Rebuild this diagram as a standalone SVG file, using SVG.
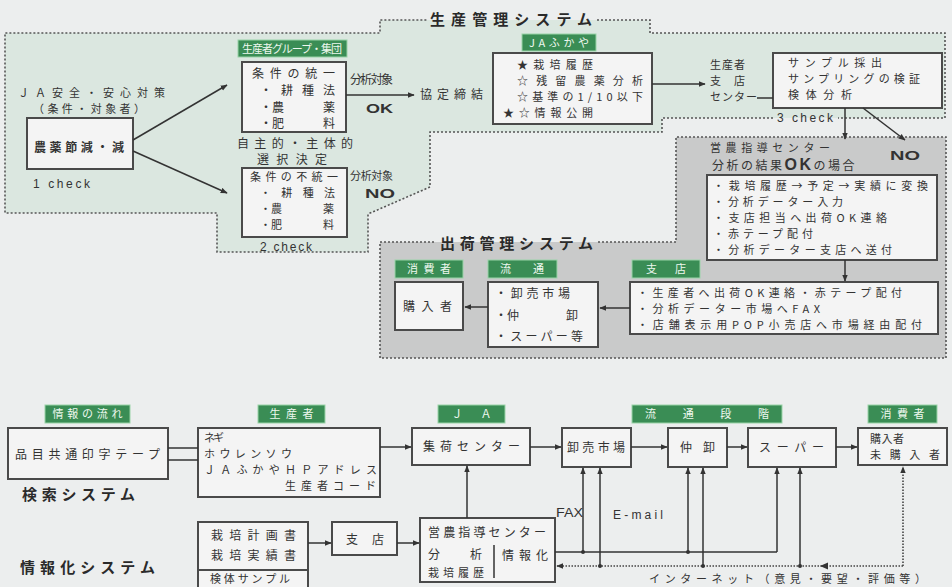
<svg xmlns="http://www.w3.org/2000/svg" width="952" height="587" viewBox="0 0 952 587">
<defs>
<marker id="ah" viewBox="0 0 10 10" refX="9" refY="5" markerWidth="7" markerHeight="7" markerUnits="userSpaceOnUse" orient="auto"><path d="M0,1 L10,5 L0,9 z" fill="#333"/></marker>
<style>
text{font-family:"Noto Sans CJK JP","Noto Sans",sans-serif;font-size:12px;fill:#333}
.s{font-size:11px}
.lat{font-family:"Liberation Sans",Arial,sans-serif}
.b{font-weight:bold}
.ttl{font-size:15px;font-weight:bold;fill:#2a2a2a}
.box{fill:#f4f4f4;stroke:#4a4a4a;stroke-width:2}
.lab rect{fill:#3a8d55;stroke:#9ad3a8;stroke-width:1}
.lab text{fill:#eef8ef;font-size:11px}
.ln{stroke:#333;stroke-width:1.5;fill:none}
.dot{stroke:#444;stroke-width:1.6;fill:none;stroke-dasharray:1.5 1.5}
.dash{stroke:#555;stroke-width:1.6;fill:none;stroke-dasharray:2 2}
</style>
</defs>
<rect x="0" y="0" width="952" height="587" fill="#eceeee"/>

<g id="region-production">
<path d="M5,33 H380 V20 H650 V33 H945 V118 H662 V132 H430 V187 L368,214 V252 H217 V213 H5 Z" fill="#dbe7e0"/>
<path class="dash" d="M597,20 H650 V33 H945 V118 H838 M773,118 H662 V132 H430 V187 L368,214 V252 H217 V213 H5 V33 H380 V20 H428"/>
<text class="ttl" x="430" y="25" textLength="162" lengthAdjust="spacing">生産管理システム</text>
</g>
<g id="region-shipping">
<path d="M380,242 H676 V137 H946 V358 H380 Z" fill="#c9caca"/>
<path class="dash" d="M598,242 H676 V137 H946 V358 H380 V242 H436"/>
<text class="ttl" x="440" y="249" textLength="153" lengthAdjust="spacing">出荷管理システム</text>
</g>

<g id="ja-policy">
<text class="s" x="18" y="97" textLength="147" lengthAdjust="spacing">ＪＡ安全・安心対策</text>
<text class="s" x="33" y="113" textLength="112" lengthAdjust="spacing">（条件・対象者）</text>
<rect class="box" x="27" y="118" width="106" height="51"/>
<text class="b" x="34" y="152" textLength="90" lengthAdjust="spacing">農薬節減・減</text>
<text class="lat" x="33" y="188" textLength="57" lengthAdjust="spacing">1 check</text>
</g>

<g id="group-unified">
<g class="lab"><rect x="238" y="40" width="109" height="17"/><text x="292" y="52.5" text-anchor="middle" textLength="100" lengthAdjust="spacing">生産者グループ・集団</text></g>
<rect class="box" x="242" y="62" width="104" height="70"/>
<text x="252" y="78" textLength="83" lengthAdjust="spacing">条件の統一</text>
<text x="260" y="95" textLength="75" lengthAdjust="spacing">・耕種法</text>
<text x="260" y="112">・農</text><text x="323" y="112">薬</text>
<text x="260" y="128">・肥</text><text x="323" y="128">料</text>
<text x="350" y="84" textLength="43" lengthAdjust="spacing">分析対象</text>
<text class="lat b" x="366" y="113" font-size="15" textLength="27" lengthAdjust="spacingAndGlyphs">OK</text>
<text x="420" y="99" textLength="63" lengthAdjust="spacing">協定締結</text>
</g>

<g id="choice">
<text x="237" y="148" textLength="116" lengthAdjust="spacing">自主的・主体的</text>
<text x="257" y="164" textLength="70" lengthAdjust="spacing">選択決定</text>
</g>

<g id="group-nonunified">
<rect class="box" x="242" y="168" width="105" height="69"/>
<text class="s" x="250" y="181" textLength="88" lengthAdjust="spacing">条件の不統一</text>
<text class="s" x="260" y="197" textLength="75" lengthAdjust="spacing">・耕種法</text>
<text class="s" x="260" y="213">・農</text><text class="s" x="323" y="213">薬</text>
<text class="s" x="260" y="229">・肥</text><text class="s" x="323" y="229">料</text>
<text class="s" x="350" y="180" textLength="43" lengthAdjust="spacing">分析対象</text>
<text class="lat b" x="365" y="198" font-size="15" textLength="30" lengthAdjust="spacingAndGlyphs">NO</text>
<text class="lat" x="260" y="251" textLength="52" lengthAdjust="spacing">2 check</text>
</g>

<g id="ja-fukaya">
<g class="lab"><rect x="522" y="34" width="74" height="17"/><text x="559" y="46.5" text-anchor="middle" textLength="60" lengthAdjust="spacing">JAふかや</text></g>
<rect class="box" x="493" y="53" width="159" height="71"/>
<text class="s" x="517" y="69" textLength="76" lengthAdjust="spacing">★栽培履歴</text>
<text class="s" x="517" y="85" textLength="126" lengthAdjust="spacing">☆残留農薬分析</text>
<text class="s" x="517" y="101" textLength="126" lengthAdjust="spacing">☆基準の1/10以下</text>
<text class="s" x="503" y="117" textLength="90" lengthAdjust="spacing">★☆情報公開</text>
</g>

<g id="producer-center">
<text class="s" x="710" y="69" textLength="35" lengthAdjust="spacing">生産者</text>
<text class="s" x="710" y="85" textLength="35" lengthAdjust="spacing">支店</text>
<text class="s" x="710" y="101" textLength="47" lengthAdjust="spacing">センター</text>
</g>

<g id="sampling">
<rect class="box" x="773" y="53" width="169" height="55"/>
<text class="s" x="788" y="67" textLength="94" lengthAdjust="spacing">サンプル採出</text>
<text class="s" x="788" y="83" textLength="132" lengthAdjust="spacing">サンプリングの検証</text>
<text class="s" x="788" y="99" textLength="64" lengthAdjust="spacing">検体分析</text>
<text class="lat" x="777" y="122" textLength="56" lengthAdjust="spacing">3 check</text>
<text class="lat b" x="890" y="160" font-size="15" textLength="30" lengthAdjust="spacingAndGlyphs">NO</text>
</g>

<g id="guidance-center">
<text class="s" x="710" y="152" textLength="120" lengthAdjust="spacing">営農指導センター</text>
<text x="712" y="170" font-size="13" letter-spacing="2.5">分析の結果<tspan class="lat b" font-size="16">OK</tspan>の場合</text>
<rect class="box" x="707" y="175" width="230" height="85"/>
<text class="s" x="713" y="190" textLength="215" lengthAdjust="spacing">・栽培履歴→予定→実績に変換</text>
<text class="s" x="713" y="206" textLength="130" lengthAdjust="spacing">・分析データー入力</text>
<text class="s" x="713" y="222" textLength="174" lengthAdjust="spacing">・支店担当へ出荷OK連絡</text>
<text class="s" x="713" y="238" textLength="100" lengthAdjust="spacing">・赤テープ配付</text>
<text class="s" x="713" y="254" textLength="179" lengthAdjust="spacing">・分析データー支店へ送付</text>
</g>

<g id="branch">
<g class="lab"><rect x="632" y="260" width="68" height="18"/><text x="666" y="273" text-anchor="middle" textLength="40" lengthAdjust="spacing">支店</text></g>
<rect class="box" x="630" y="282" width="308" height="52"/>
<text class="s" x="637" y="297" textLength="265" lengthAdjust="spacing">・生産者へ出荷OK連絡・赤テープ配付</text>
<text class="s" x="637" y="313" textLength="183" lengthAdjust="spacing">・分析データー市場へFAX</text>
<text class="s" x="637" y="329" textLength="285" lengthAdjust="spacing">・店舗表示用POP小売店へ市場経由配付</text>
</g>

<g id="distribution">
<g class="lab"><rect x="488" y="260" width="69" height="18"/><text x="522" y="273" text-anchor="middle" textLength="44" lengthAdjust="spacing">流通</text></g>
<rect class="box" x="488" y="282" width="110" height="65"/>
<text x="495" y="298" textLength="75" lengthAdjust="spacing">・卸売市場</text>
<text x="495" y="320">・仲</text><text x="566" y="320">卸</text>
<text x="495" y="341" textLength="88" lengthAdjust="spacing">・スーパー等</text>
</g>

<g id="consumer">
<g class="lab"><rect x="395" y="260" width="68" height="18"/><text x="429" y="273" text-anchor="middle" textLength="44" lengthAdjust="spacing">消費者</text></g>
<rect class="box" x="395" y="282" width="68" height="48"/>
<text x="403" y="311" textLength="49" lengthAdjust="spacing">購入者</text>
</g>

<g id="info-flow">
<g class="lab"><rect x="45" y="405" width="85" height="18"/><text x="87.5" y="418" text-anchor="middle" textLength="70" lengthAdjust="spacing">情報の流れ</text></g>
<rect class="box" x="8" y="428" width="160" height="51"/>
<text x="15" y="459" textLength="145" lengthAdjust="spacing">品目共通印字テープ</text>
<text class="ttl" x="22" y="500" textLength="113" lengthAdjust="spacing">検索システム</text>
</g>

<g id="producer">
<g class="lab"><rect x="258" y="405" width="67" height="18"/><text x="291.5" y="418" text-anchor="middle" textLength="44" lengthAdjust="spacing">生産者</text></g>
<rect class="box" x="198" y="428" width="182" height="69"/>
<text class="s" x="204" y="442" textLength="20" lengthAdjust="spacing">ネギ</text>
<text class="s" x="204" y="458" textLength="88" lengthAdjust="spacing">ホウレンソウ</text>
<text class="s" x="204" y="474" textLength="173" lengthAdjust="spacing">ＪＡふかやＨＰアドレス</text>
<text class="s" x="285" y="490" textLength="91" lengthAdjust="spacing">生産者コード</text>
</g>

<g id="ja-collect">
<g class="lab"><rect x="438" y="405" width="67" height="18"/><text x="471.5" y="418" text-anchor="middle" textLength="40" lengthAdjust="spacing">Ｊ　Ａ</text></g>
<rect class="box" x="412" y="428" width="118" height="37"/>
<text x="423" y="451" textLength="97" lengthAdjust="spacing">集荷センター</text>
</g>

<g id="dist-stage">
<g class="lab"><rect x="632" y="405" width="150" height="18"/><text x="707" y="418" text-anchor="middle" textLength="124" lengthAdjust="spacing">流通段階</text></g>
</g>
<g id="market">
<rect class="box" x="562" y="428" width="69" height="39"/>
<text x="567" y="452" textLength="58" lengthAdjust="spacing">卸売市場</text>
</g>
<g id="broker">
<rect class="box" x="668" y="428" width="59" height="39"/>
<text x="680" y="452" textLength="35" lengthAdjust="spacing">仲卸</text>
</g>
<g id="super">
<rect class="box" x="748" y="428" width="88" height="39"/>
<text x="759" y="452" textLength="65" lengthAdjust="spacing">スーパー</text>
</g>
<g id="buyers">
<g class="lab"><rect x="868" y="405" width="69" height="18"/><text x="902.5" y="418" text-anchor="middle" textLength="44" lengthAdjust="spacing">消費者</text></g>
<rect class="box" x="858" y="428" width="89" height="37"/>
<text class="s" x="870" y="443" textLength="34" lengthAdjust="spacing">購入者</text>
<text class="s" x="870" y="459" textLength="70" lengthAdjust="spacing">未購入者</text>
</g>

<g id="info-system">
<text class="ttl" x="20" y="573" textLength="135" lengthAdjust="spacing">情報化システム</text>
</g>
<g id="plans">
<rect class="box" x="198" y="522" width="110" height="48"/>
<text x="211" y="540" textLength="85" lengthAdjust="spacing">栽培計画書</text>
<text x="211" y="560" textLength="85" lengthAdjust="spacing">栽培実績書</text>
<rect class="box" x="198" y="570" width="110" height="25"/>
<text class="s" x="210" y="583" textLength="80" lengthAdjust="spacing">検体サンプル</text>
</g>
<g id="branch2">
<rect class="box" x="332" y="522" width="65" height="33"/>
<text x="346" y="544" textLength="38" lengthAdjust="spacing">支店</text>
</g>
<g id="guidance2">
<rect class="box" x="420" y="518" width="135" height="64"/>
<text x="428" y="537" textLength="118" lengthAdjust="spacing">営農指導センター</text>
<text x="428" y="559">分</text><text x="470" y="559">析</text>
<text class="s" x="428" y="577" textLength="56" lengthAdjust="spacing">栽培履歴</text>
<line x1="494" y1="545" x2="494" y2="578" stroke="#333" stroke-width="1.5"/>
<text x="502" y="560" textLength="46" lengthAdjust="spacing">情報化</text>
</g>
<g id="channel-labels">
<text class="lat" x="556" y="517" textLength="27" lengthAdjust="spacingAndGlyphs">FAX</text>
<text class="lat" x="613" y="519" textLength="50" lengthAdjust="spacing">E-mail</text>
<text class="s" x="649" y="583" textLength="277" lengthAdjust="spacing">インターネット（意見・要望・評価等）</text>
</g>

<g id="connectors">
<line class="ln" x1="133" y1="140" x2="227" y2="85" marker-end="url(#ah)"/>
<line class="ln" x1="133" y1="151" x2="227" y2="193" marker-end="url(#ah)"/>
<line class="ln" x1="346" y1="95" x2="414" y2="95" marker-end="url(#ah)"/>
<line class="ln" x1="652" y1="84" x2="705" y2="84" marker-end="url(#ah)"/>
<line class="ln" x1="757" y1="98" x2="773" y2="98"/>
<line class="ln" x1="845" y1="108" x2="845" y2="139" marker-end="url(#ah)"/>
<line class="ln" x1="863" y1="108" x2="905" y2="140" marker-end="url(#ah)"/>
<line class="ln" x1="845" y1="260" x2="845" y2="281" marker-end="url(#ah)"/>
<line class="ln" x1="630" y1="308" x2="600" y2="308" marker-end="url(#ah)"/>
<line class="ln" x1="488" y1="307" x2="465" y2="307" marker-end="url(#ah)"/>

<line class="ln" x1="168" y1="448" x2="198" y2="448"/>
<line class="ln" x1="168" y1="460" x2="198" y2="460"/>
<line class="ln" x1="380" y1="447" x2="411" y2="447" marker-end="url(#ah)"/>
<line class="ln" x1="530" y1="447" x2="561" y2="447" marker-end="url(#ah)"/>
<line class="ln" x1="631" y1="447" x2="667" y2="447" marker-end="url(#ah)"/>
<line class="ln" x1="727" y1="447" x2="747" y2="447" marker-end="url(#ah)"/>
<line class="ln" x1="836" y1="447" x2="857" y2="447" marker-end="url(#ah)"/>

<line class="ln" x1="308" y1="543" x2="331" y2="543" marker-end="url(#ah)"/>
<line class="ln" x1="397" y1="543" x2="419" y2="543" marker-end="url(#ah)"/>
<line class="ln" x1="467" y1="518" x2="467" y2="466" marker-end="url(#ah)"/>

<polyline class="ln" points="555,552 777,552"/>
<line class="ln" x1="583" y1="552" x2="583" y2="468" marker-end="url(#ah)"/>
<line class="ln" x1="688" y1="552" x2="688" y2="468" marker-end="url(#ah)"/>
<line class="ln" x1="777" y1="552" x2="777" y2="468" marker-end="url(#ah)"/>
<line class="ln" x1="600" y1="566" x2="600" y2="468" marker-end="url(#ah)"/>
<line class="ln" x1="703" y1="566" x2="703" y2="468" marker-end="url(#ah)"/>
<line class="ln" x1="800" y1="566" x2="800" y2="468" marker-end="url(#ah)"/>
<line class="dot" x1="903" y1="566" x2="903" y2="467" marker-end="url(#ah)"/>
<line class="dot" x1="903" y1="566" x2="557" y2="566" marker-end="url(#ah)"/>
<path d="M820,566 L828,562.5 L828,569.5 z" fill="#333"/>
<circle cx="583" cy="552" r="2" fill="#333"/>
<circle cx="688" cy="552" r="2" fill="#333"/>
<circle cx="600" cy="566" r="2" fill="#333"/>
<circle cx="703" cy="566" r="2" fill="#333"/>
<circle cx="800" cy="566" r="2" fill="#333"/>
</g>
</svg>
